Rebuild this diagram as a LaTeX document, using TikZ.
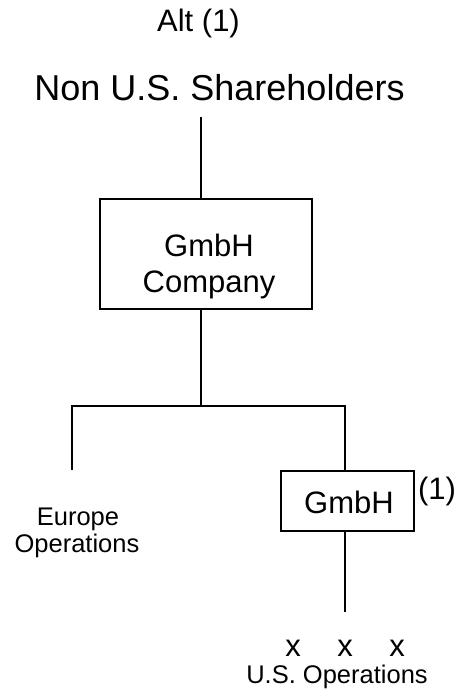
\documentclass[tikz,border=0pt]{standalone}
\usepackage{fontspec}
\setmainfont{Liberation Sans}
\usetikzlibrary{calc}

\begin{document}
\begin{tikzpicture}[x=1pt, y=-1pt, line width=1.6pt,
    box/.style={draw, line width=1.6pt, inner sep=0pt},
    big/.style={font=\fontsize{36}{40}\selectfont, anchor=base, inner sep=0pt},
    mid/.style={font=\fontsize{31}{36}\selectfont, anchor=base, inner sep=0pt},
    small/.style={font=\fontsize{25.5}{27}\selectfont, anchor=base, inner sep=0pt}]
    \useasboundingbox (0,0) rectangle (469,692);

    % Heading
    \node[mid] (alt) at (198.5,32) {Alt (1)};
    \node[big] (holders) at (219.5,101) {Non U.S. Shareholders};

    % Parent company
    \node[box, minimum width=212pt, minimum height=110pt] (parent) at (206,254) {};
    \node[mid] (parentname) at (209,256) {GmbH};
    \node[mid] (parenttype) at (209,292) {Company};

    % U.S. holding
    \node[box, minimum width=133pt, minimum height=60pt] (gmbh) at (347.5,501) {};
    \node[mid] (gmbhname) at (349,513) {GmbH};
    \node[mid] (note) at (437,499) {(1)};

    % Operations
    \node[small] (europe) at (78,525) {Europe};
    \node[small] (europeops) at (77,552) {Operations};
    \foreach \px [count=\i] in {293,345,397}
        \node[mid] (x\i) at (\px,656) {x};
    \node[small] (usops) at (337,683) {U.S. Operations};

    % Connectors
    \coordinate (top) at (201,117);
    \coordinate (split) at (201,406);
    \coordinate (eutop) at (72,470);
    \coordinate (usdrop) at (345,612);
    \draw (top) -- (top |- parent.north);
    \draw (top |- parent.south) -- (split);
    \draw (eutop) |- (split) -| (usdrop |- gmbh.north);
    \draw (usdrop |- gmbh.south) -- (usdrop);
\end{tikzpicture}
\end{document}
